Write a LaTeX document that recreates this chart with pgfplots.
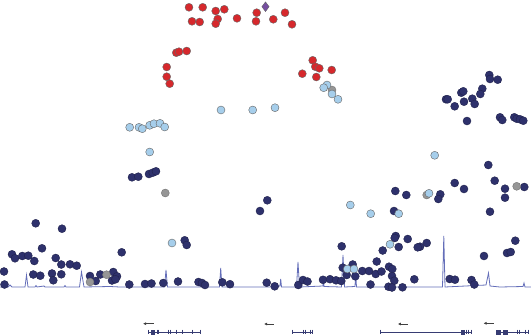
\documentclass[border=0pt]{standalone}
\usepackage{pgfplots}
\pgfplotsset{compat=1.18}
\usetikzlibrary{arrows.meta}
\definecolor{navyc}{RGB}{46,49,108}
\definecolor{redc}{RGB}{214,40,44}
\definecolor{lbluec}{RGB}{166,206,235}
\definecolor{grayc}{RGB}{150,150,150}
\definecolor{purplec}{RGB}{118,78,160}
\definecolor{recc}{RGB}{100,110,185}
\definecolor{genec}{RGB}{55,60,115}
\begin{document}
\begin{tikzpicture}
\useasboundingbox (0,0) rectangle (531pt,335pt);
\begin{axis}[width=531pt,height=335pt,scale only axis,
  xmin=0,xmax=531,ymin=0,ymax=335,y dir=reverse,hide axis,clip=true,
  anchor=south west, at={(0,0)}]
% recombination rate
\addplot[recc, line width=0.8pt] coordinates {
(0,287)(8,287)(10,285)(12,287)(25,287)(26.5,275)(28,287)(35,287)(36,285.5)(37,287)(44,286)(45,287)(64,287)(65,285.5)(66,287)(79.5,287)(81.5,272)(84,287)(110,286.5)(120,287)(164.5,287)(166,270)(167.5,287)(186,287)(219.5,287)(220.7,268)(222,287)(270,287)(280,286)(280.7,279)(281.5,287)(296.5,287)(298,262)(299.5,287)(323,286)(323.5,280)(324,286.5)(341.5,287)(343,255)(344.5,287)(355,286.5)(355.7,273)(356.5,287)(378,287)(442.5,287)(443.8,236)(445,287)(486,285)(488.5,273)(490,286)(500,287)(523,286.5)(524,283)(525,287)(531,287)};
% gene tracks
\addplot[genec, line width=0.6pt] coordinates {(148,332)(200,332)};
\addplot[genec, line width=0.6pt] coordinates {(292.3,332)(312.3,332)};
\addplot[genec, line width=0.6pt] coordinates {(380,332)(471,332)};
\addplot[genec, line width=0.6pt] coordinates {(497,332)(528.5,332)};
\addplot[only marks, genec, mark=|, mark size=2.3pt, mark options={line width=0.7pt}] coordinates {
(148.5,332)(157,332)(158.5,332)(168.7,332)(170.7,332)(176.3,332)(182,332)(192.3,332)(200,332)
(292.3,332)(303.7,332)(305.7,332)(310,332)(312.3,332)
(380,332)(466,332)(468.5,332)(471,332)
(517.7,332)(519.5,332)(525,332)(528.3,332)};
\addplot[only marks, genec, mark=square*, mark size=1.8pt] coordinates {
(152.7,332)(462.5,332)(498,332)(505,332)};
\addplot[black!75, line width=0.6pt, {Latex[length=3pt,width=3pt]}-] coordinates {(143,323.7)(154,323.7)};
\addplot[black!75, line width=0.6pt, {Latex[length=3pt,width=3pt]}-] coordinates {(264,324)(274,324)};
\addplot[black!75, line width=0.6pt, {Latex[length=3pt,width=3pt]}-] coordinates {(397.8,324)(407.8,324)};
\addplot[black!75, line width=0.6pt, {Latex[length=3pt,width=3pt]}-] coordinates {(483.5,323.3)(493.5,323.3)};
% navy points
\addplot[only marks, mark=*, mark size=4pt, mark options={fill=navyc, draw=navyc!70!black, line width=0.4pt}] coordinates {
(489.3,75)(490,79)(497.7,79.7)(446,99.3)(447.7,99.3)(461.3,92.7)(463.3,91.3)(482.3,88.7)(480.3,94)(472.3,98.7)(474.7,104)(464,101.7)(454.7,106.3)(467,121)(500,117.3)(502.3,120)(514.3,117.3)(516.7,118.7)(520,119.3)(523.3,120.7)(488.3,165)
(132,177.3)(138.3,176.7)(149,174)(152.7,172.7)(156,171.3)
(494.7,180.7)(505,188.7)(505,197.7)(524.3,187)(490,211.7)(454.7,183)(464,189)(440.3,194.3)(438.3,199)(395.3,191)(406.3,195)(394,211)(267.3,200.3)(260,211)
(35.7,223.3)(62,228.7)(184.7,240.3)(186.7,245)(42,248.3)(121.7,252.3)
(395.7,236)(394.7,238)(407.7,239)(426.7,243)(420,246.7)(398.7,247)(417.7,247.3)(382.7,250.5)(341.7,246.3)(515.3,240.7)(507,253)(510.7,252)(484,256)(376.7,261.5)
(12,254.3)(15,258.3)(22.3,256)(28.3,255.7)(34.3,261)(55.7,258)(61.3,264.5)(70,264.3)(76.7,265.7)(4,271.5)(33.3,274.5)(40.3,275.7)(52,273.5)(53.3,280.3)(61.3,274.3)(4.5,284.5)(90,276)(95.7,281)(100.3,274.5)(113.3,272)(117,276.3)(112,280.5)(115.5,279.3)(129.3,284.5)
(145,284)(151.5,283.5)(163.3,283)(178,281.5)(198.5,282)(202,283)(205,285)(222.3,282.3)(230,284.2)(266.7,282.7)(274.7,286.3)(298.3,285)(303,280)(307.5,281.5)(323,279.8)(330,279.2)(336,280.3)(341.3,281)
(342.7,267.7)(352.7,264.5)(346.7,275)(355.3,276.3)(362.3,271)(369,271)(375.7,274)(381.5,271.5)(389,266.7)(392.3,269)(392,276)(394.3,280.7)(388.5,286.7)(392,287.5)(402.5,287.3)(370.5,284.5)(414.3,279.3)(449.7,279)(455,279.7)(471.5,280)(474.3,284.5)};
% gray points
\addplot[only marks, mark=*, mark size=4pt, mark options={fill=grayc, draw=black!55, line width=0.4pt}] coordinates {
(165.3,193)(332,90)(516.7,186.3)(106.5,274.7)(90,282)(426.7,195)};
% light blue points
\addplot[only marks, mark=*, mark size=4pt, mark options={fill=lbluec, draw=black!60, line width=0.4pt}] coordinates {
(221,110)(252.7,110)(275,107.7)(129.7,127.3)(139,127.3)(142.3,128.7)(149.7,125.3)(154,123.7)(160,123.3)(164.7,127)(149.7,152)(327,85)(323.7,87.7)(332,94)(338,99.3)(434.7,155.3)(172,243)(429,193.3)(398.7,213.7)(350.3,205)(370.7,213.7)(390,244.3)(347.3,269)(354,269)};
% red points
\addplot[only marks, mark=*, mark size=4pt, mark options={fill=redc, draw=black!60, line width=0.4pt}] coordinates {
(189,7.3)(202.7,7.3)(215.7,11)(224.3,9.3)(192,21.3)(199.7,22)(217.7,19)(215.7,23.7)(237,18.3)(256.7,12.7)(256,21.3)(273.3,19.3)(285,12.7)(292,24.3)(176.3,52.7)(179,51.7)(186.7,51)(166.7,67)(166.7,76.7)(169.7,83.7)(312.7,60.3)(315.3,66.7)(319.3,68.3)(331.7,70)(302.3,73.7)(316.3,77)};
% lead SNP
\addplot[only marks, mark=diamond*, mark size=4.8pt, mark options={fill=purplec, draw=black!60, line width=0.4pt}] coordinates {(265.5,6.7)};
\end{axis}
\end{tikzpicture}
\end{document}
